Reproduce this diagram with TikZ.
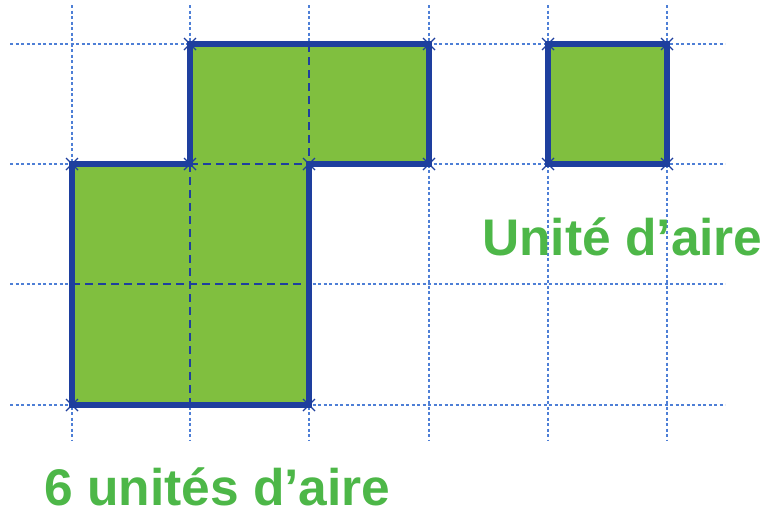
\documentclass[tikz,border=0pt]{standalone}
\usepackage{fontspec}
\setmainfont{Liberation Sans}
\definecolor{fillgreen}{HTML}{80BF3F}
\definecolor{textgreen}{HTML}{4DB748}
\definecolor{edgeblue}{HTML}{1E3F9E}
\definecolor{gridblue}{HTML}{4E7FD6}
\tikzset{
  gridline/.style={draw=gridblue, line width=2pt, dash pattern=on 3pt off 2.5pt},
  inner dash/.style={draw=edgeblue, line width=2pt, dash pattern=on 8pt off 5pt},
  border/.style={draw=edgeblue, line width=6pt, line join=miter},
  shape fill/.style={fill=fillgreen},
  label text/.style={text=textgreen, font=\bfseries\fontsize{51.5}{56}\selectfont, inner sep=0pt, anchor=base west},
  vmark/.style={draw=edgeblue, line width=1.2pt}
}
\begin{document}
\begin{tikzpicture}[x=1pt,y=-1pt]
\useasboundingbox (0,0) rectangle (765,515);
% grid
\foreach \x in {72,190,309,429,548,667} \draw[gridline] (\x,5) -- (\x,440);
\foreach \y in {44,164,284,405} \draw[gridline] (10,\y) -- (725,\y);
% big shape
\fill[shape fill] (72,405) -- (72,164) -- (190,164) -- (190,44) -- (429,44) -- (429,164) -- (309,164) -- (309,405) -- cycle;
\draw[inner dash] (190,164) -- (190,405);
\draw[inner dash] (72,284) -- (309,284);
\draw[inner dash] (309,44) -- (309,164);
\draw[inner dash] (190,164) -- (309,164);
\draw[border] (72,405) -- (72,164) -- (190,164) -- (190,44) -- (429,44) -- (429,164) -- (309,164) -- (309,405) -- cycle;
% unit square
\path[shape fill, border] (548,44) rectangle (667,164);
% vertex marks
\foreach \p in {(72,405),(72,164),(190,164),(190,44),(429,44),(429,164),(309,164),(309,405),(548,44),(667,44),(548,164),(667,164)}
  \draw[vmark] \p ++(-6,-6) -- ++(12,12) \p ++(-6,6) -- ++(12,-12);
% labels
\node[label text] (unit) at (482,255) {Unité d’aire};
\node[label text] (six) at (44,505) {6 unités d’aire};
\end{tikzpicture}
\end{document}
